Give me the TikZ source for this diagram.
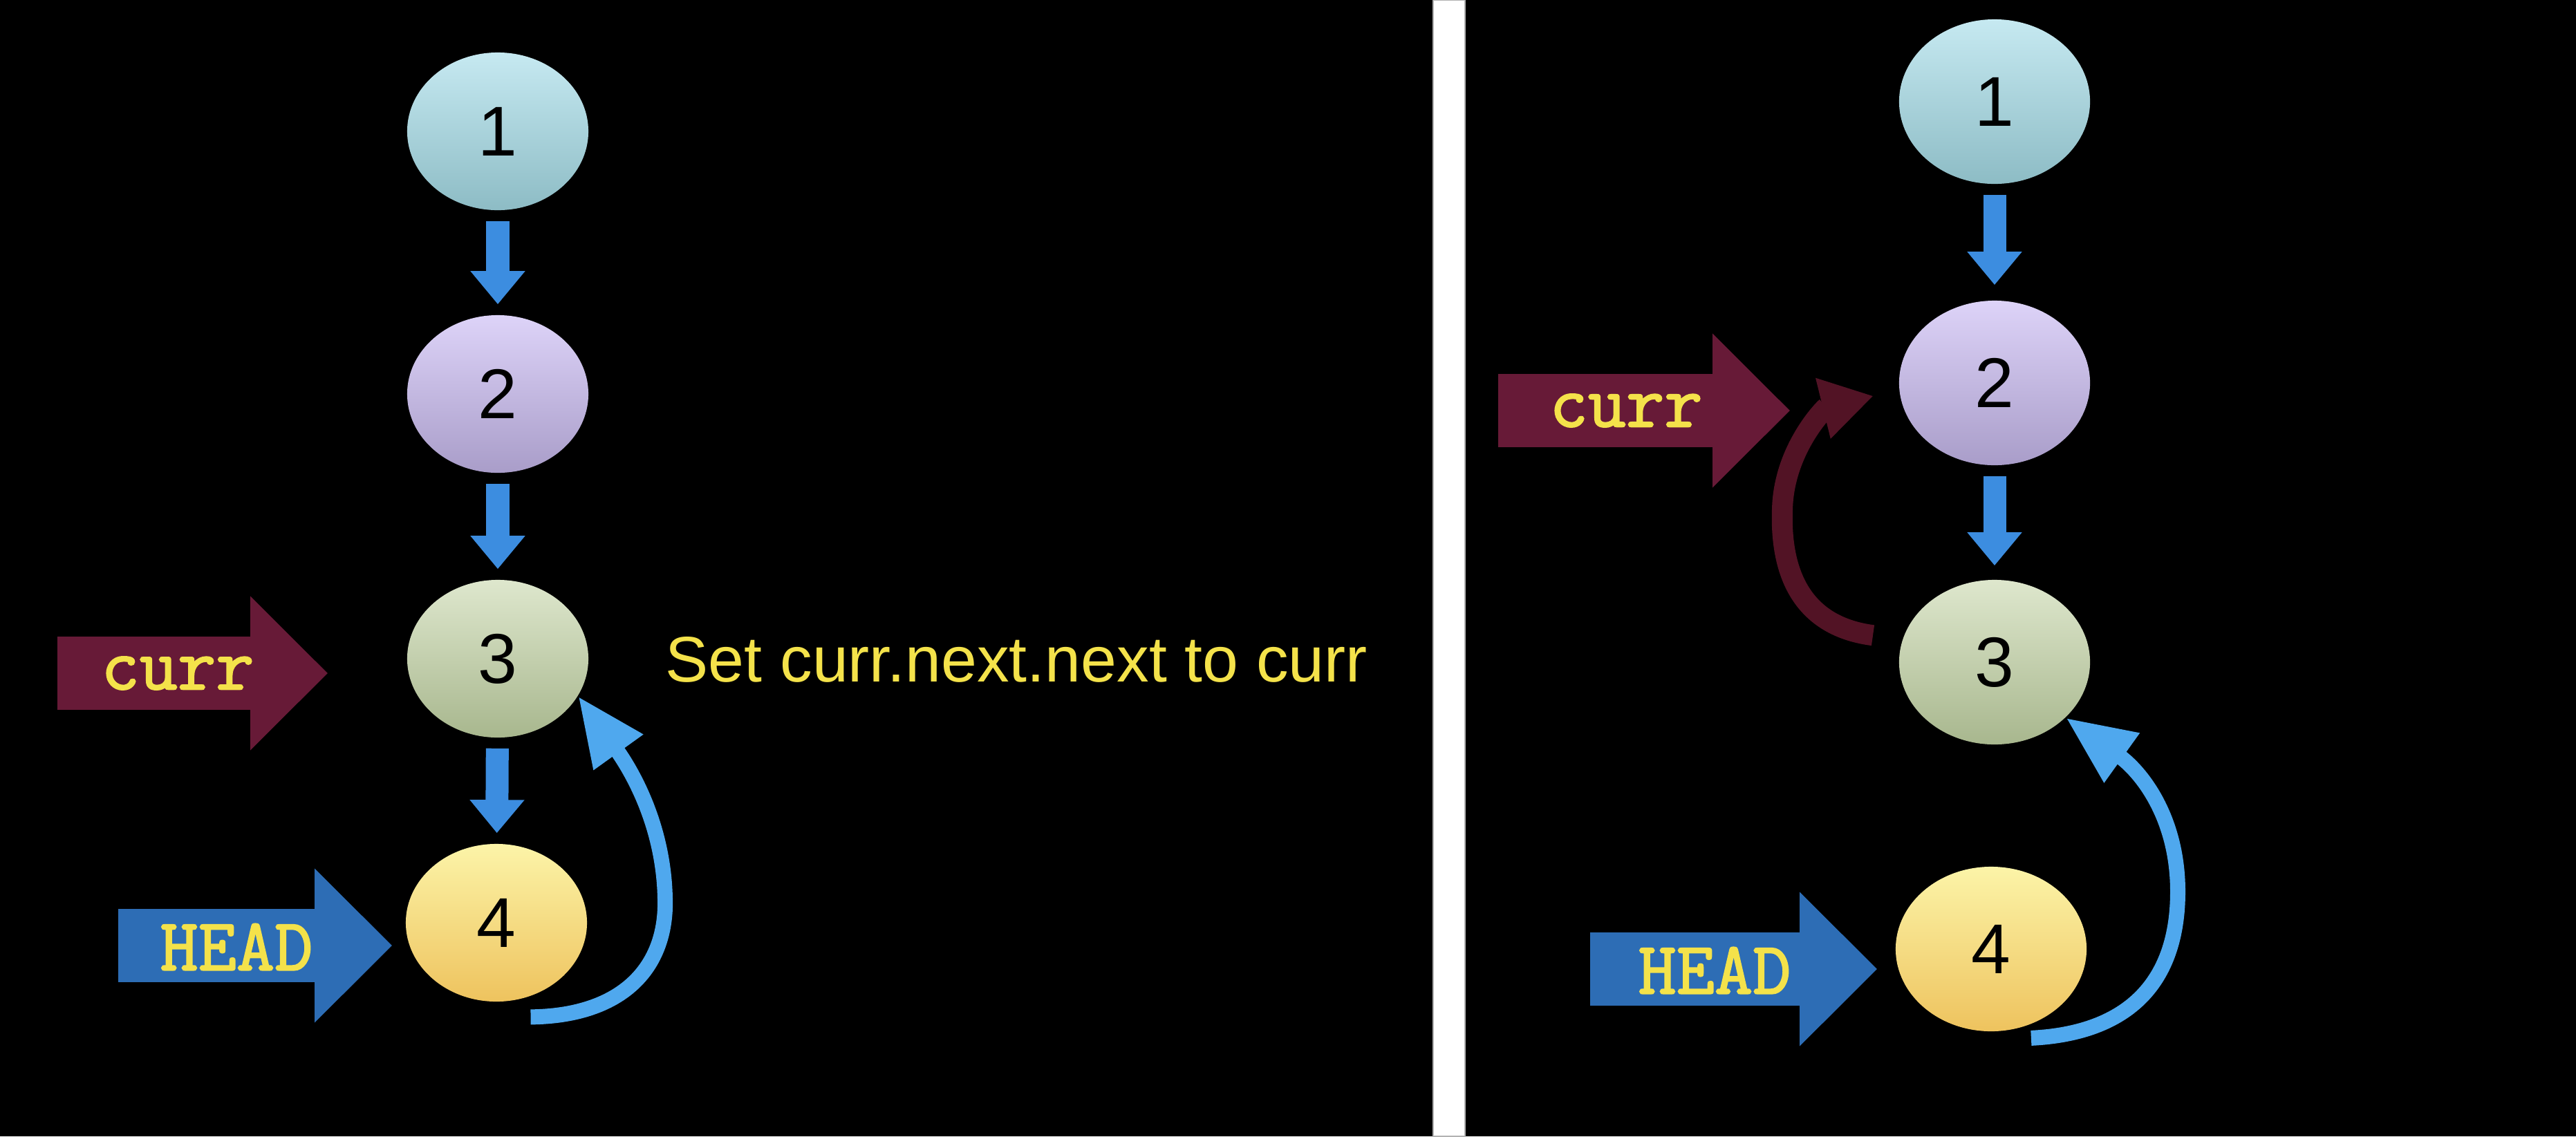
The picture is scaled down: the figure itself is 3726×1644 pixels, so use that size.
\documentclass[tikz,border=0pt]{standalone}
\usepackage{fontspec}
\setmainfont{Liberation Sans}
\newfontfamily\ptrfont[FakeBold=2]{Latin Modern Mono}
\usetikzlibrary{shapes.geometric,arrows.meta,positioning}

\definecolor{oneT}{HTML}{C6E9F1}
\definecolor{oneB}{HTML}{8DBCC5}
\definecolor{twoT}{HTML}{DDD3F8}
\definecolor{twoB}{HTML}{A99DC9}
\definecolor{threeT}{HTML}{DEE7CD}
\definecolor{threeB}{HTML}{A8B78E}
\definecolor{fourT}{HTML}{FCF4A8}
\definecolor{fourB}{HTML}{EEC35E}
\definecolor{nextblue}{HTML}{3C8DE0}
\definecolor{linkblue}{HTML}{4FA8EE}
\definecolor{headblue}{HTML}{2D6DB5}
\definecolor{currred}{HTML}{671A37}
\definecolor{oldred}{HTML}{521325}
\definecolor{labelyellow}{HTML}{F4E24A}

\begin{document}
\begin{tikzpicture}[x=0.01cm,y=-0.01cm,
    listnode/.style={ellipse,inner sep=0pt,minimum width=2.62cm,minimum height=2.28cm,
      font=\fontsize{29}{34}\selectfont},
    bignode/.style={listnode,minimum width=2.76cm,minimum height=2.38cm},
    nextarrow/.style={draw=nextblue,line width=0.33cm,-{Triangle[width=0.76cm,length=0.48cm]},
      shorten <=0.15cm,shorten >=0.15cm},
    ptr/.style={line width=1.06cm,-{Triangle[width=2.16cm,length=1.12cm]}},
    ptrtext/.style={text=labelyellow,inner sep=0pt,font=\ptrfont\fontsize{30.5}{34}\selectfont},
    backlink/.style={draw=linkblue,line width=0.22cm,-{Triangle[width=0.82cm,length=1.0cm]}},
    oldlink/.style={draw=oldred,line width=0.3cm,-{Triangle[width=0.85cm,length=0.75cm]}},
  ]
  \fill[black] (0,0) rectangle (3726,1644);
  \useasboundingbox (0,0) rectangle (3726,1644);
  \fill[white,draw=gray!60,thin] (2073,0) rectangle (2119,1644);

  % left: before the step
  \node[listnode,top color=oneT,bottom color=oneB] (l1) at (720,190) {1};
  \node[listnode,top color=twoT,bottom color=twoB] (l2) at (720,570) {2};
  \node[listnode,top color=threeT,bottom color=threeB] (l3) at (720,953) {3};
  \node[listnode,top color=fourT,bottom color=fourB] (l4) at (718,1335) {4};
  \draw[nextarrow] (l1) -- (l2);
  \draw[nextarrow] (l2) -- (l3);
  \draw[nextarrow] (l3) -- (l4);
  \draw[backlink] ([yshift=-0.3cm]l4.-65) .. controls (900,1470) and (965,1400) .. (962,1300)
    .. controls (960,1190) and (910,1110) .. (l3.-25);

  \coordinate (currtailL) at (83,974);
  \coordinate (headtailL) at (171,1368);
  \draw[ptr,currred,shorten >=1.14cm] (currtailL) -- (currtailL -| l3.west);
  \draw[ptr,headblue,shorten >=0.19cm] (headtailL) -- (headtailL -| l4.west);
  \node[ptrtext] (currL) at (257,974) {curr};
  \node[ptrtext] (headL) at (342,1370) {HEAD};

  \node[anchor=base west,inner sep=0pt,text=labelyellow,font=\fontsize{26.5}{32}\selectfont]
    (step) at (962,986) {Set curr.next.next to curr};

  % right: after the step
  \node[bignode,top color=oneT,bottom color=oneB] (r1) at (2885,147) {1};
  \node[bignode,top color=twoT,bottom color=twoB] (r2) at (2885,554) {2};
  \node[bignode,top color=threeT,bottom color=threeB] (r3) at (2885,958) {3};
  \node[bignode,top color=fourT,bottom color=fourB] (r4) at (2880,1373) {4};
  \draw[nextarrow,shorten >=0.22cm] (r1) -- (r2);
  \draw[nextarrow,shorten >=0.2cm] (r2) -- (r3);
  \draw[oldlink,shorten <=0.43cm,shorten >=0.38cm] (r3.166) .. controls (2600,905) and (2575,820) .. (2578,737)
    .. controls (2580,650) and (2640,590) .. (r2.184);
  \draw[backlink] ([yshift=-0.2cm]r4.-62) .. controls (3080,1495) and (3150,1420) .. (3150,1290)
    .. controls (3150,1180) and (3095,1115) .. (r3.-38);

  \coordinate (currtailR) at (2167,594);
  \coordinate (headtailR) at (2300,1402);
  \draw[ptr,currred,shorten >=1.57cm] (currtailR) -- (currtailR -| r2.west);
  \draw[ptr,headblue,shorten >=0.26cm] (headtailR) -- (headtailR -| r4.west);
  \node[ptrtext] (currR) at (2352,594) {curr};
  \node[ptrtext] (headR) at (2480,1404) {HEAD};
\end{tikzpicture}
\end{document}
